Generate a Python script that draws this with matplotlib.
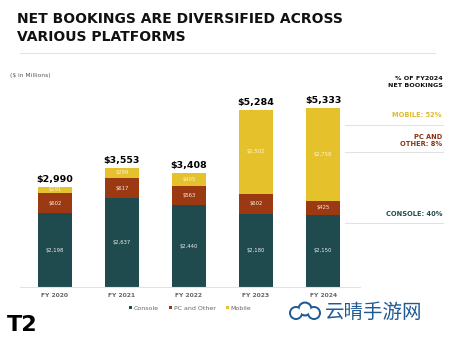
import matplotlib.pyplot as plt
import matplotlib.patches as mpatches

years = ["FY 2020", "FY 2021", "FY 2022", "FY 2023", "FY 2024"]
console = [2198, 2637, 2440, 2180, 2150]
pc_other = [602, 617, 563, 602, 425]
mobile = [191, 299, 405, 2502, 2758]
totals = [2990, 3553, 3408, 5284, 5333]
series_names = ["Console", "PC and Other", "Mobile"]
share_labels = ["MOBILE: 52%", "PC AND\nOTHER: 8%", "CONSOLE: 40%"]

c_console = "#1f4a4e"
c_pc = "#9b3a12"
c_mobile = "#e5c12c"

W, H = 459, 344
fig = plt.figure(figsize=(W / 100, H / 100), dpi=100)


def fx(px):
    return px / W


def fy(py):
    return 1 - py / H


# bar axes: baseline at y=287px, 0.03357 px per $M
ax = fig.add_axes([fx(20), fy(287), fx(340), (5600 * 0.03357) / H])
x = range(len(years))
bw = 0.51
ax.bar(x, console, bw, color=c_console, label=series_names[0])
ax.bar(x, pc_other, bw, bottom=console, color=c_pc, label=series_names[1])
bottoms = [c + p for c, p in zip(console, pc_other)]
ax.bar(x, mobile, bw, bottom=bottoms, color=c_mobile, label=series_names[2])

for i in x:
    ax.text(i, console[i] / 2, f"${console[i]:,}", ha="center", va="center",
            fontsize=3.8, color="white", alpha=0.9)
    ax.text(i, console[i] + pc_other[i] / 2, f"${pc_other[i]:,}", ha="center",
            va="center", fontsize=3.8, color="white", alpha=0.9)
    ax.text(i, bottoms[i] + mobile[i] / 2, f"${mobile[i]:,}", ha="center",
            va="center", fontsize=3.8, color="white", alpha=0.85)
    ax.text(i, totals[i] + 80, f"${totals[i]:,}", ha="center", va="bottom",
            fontsize=6.8, fontweight="bold", color="black")

ax.set_xlim(-0.52, 4.55)
ax.set_ylim(0, 5600)
ax.set_xticks(list(x))
ax.set_xticklabels(years, fontsize=4.3, fontweight="bold", color="#666666")
ax.tick_params(axis="x", length=0, pad=4)
ax.set_yticks([])
for s in ["top", "right", "left"]:
    ax.spines[s].set_visible(False)
ax.spines["bottom"].set_color("#e3e3e3")
ax.spines["bottom"].set_linewidth(0.8)

# legend
leg = fig.legend(loc="center", bbox_to_anchor=(fx(190), fy(308)), ncol=3,
                 frameon=False, fontsize=4.5, handlelength=0.5, handleheight=0.5,
                 handletextpad=0.3, columnspacing=1.6)
for t in leg.get_texts():
    t.set_color("#666666")

# title and header
fig.text(fx(17), fy(12), "NET BOOKINGS ARE DIVERSIFIED ACROSS\nVARIOUS PLATFORMS",
         ha="left", va="top", fontsize=10, fontweight="bold", color="#111111",
         linespacing=1.35)
fig.add_artist(plt.Line2D([fx(20), fx(435)], [fy(53), fy(53)], color="#e2e2e2", lw=0.8))
fig.text(fx(10), fy(75), "($ in Millions)", ha="left", va="center", fontsize=4.3,
         color="#555555")
fig.text(fx(443), fy(82), "% OF FY2024\nNET BOOKINGS", ha="right", va="center",
         fontsize=4.6, fontweight="bold", color="#111111", linespacing=1.3)

# share annotations on the right
share_y = [115, 140, 214]
share_col = ["#dcbc2c", "#8a3312", "#1f4a4e"]
for lab, yy, col in zip(share_labels, share_y, share_col):
    fig.text(fx(442), fy(yy), lab, ha="right", va="center", fontsize=4.8,
             fontweight="bold", color=col, linespacing=1.2)
for yy in [125, 152, 223]:
    fig.add_artist(plt.Line2D([fx(345), fx(443)], [fy(yy), fy(yy)],
                              color="#e2e2e2", lw=0.8))

# logo
fig.text(fx(7), fy(325), "T2", ha="left", va="center", fontsize=16,
         fontweight="bold", color="black")

# watermark
for r, col in [(1.0, "#1e5a94"), (0.72, "white")]:
    for cx, cy, rad in [(296, 313, 7), (305, 309, 7.5), (314, 313, 7)]:
        fig.add_artist(mpatches.Ellipse((fx(cx), fy(cy)), 2 * rad * r / W,
                                        2 * rad * r / H, color=col, lw=0))
fig.text(fx(325), fy(313), "云晴手游网", ha="left", va="center", fontsize=14,
         color="#1e5a94", family=["Noto Sans CJK SC", "DejaVu Sans"])

fig.savefig("out.png", dpi=100)
